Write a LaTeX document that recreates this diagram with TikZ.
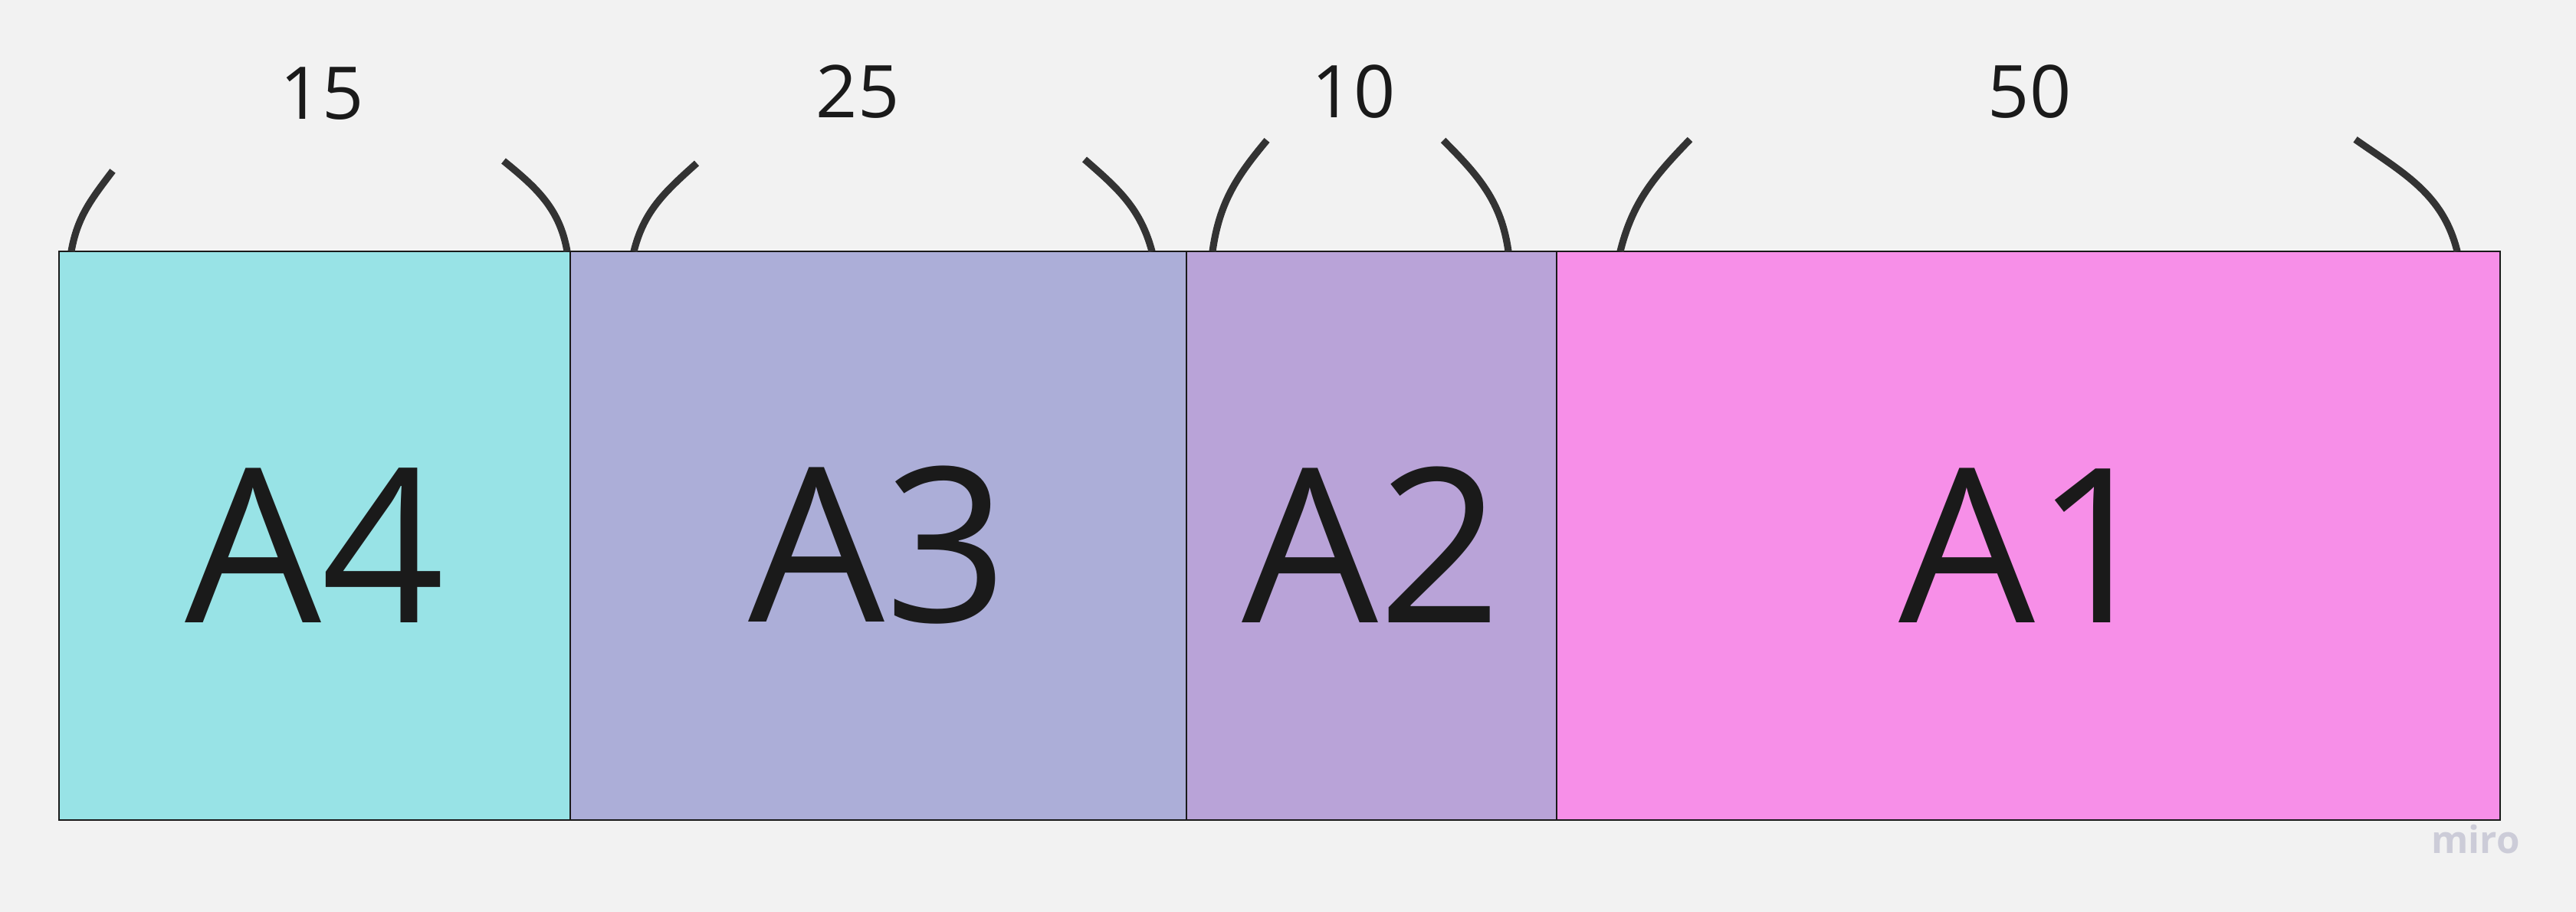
\documentclass[tikz,border=0pt]{standalone}
\usepackage{fontspec}
\setmainfont{Open Sans}
\usepackage{tikz}
\usetikzlibrary{positioning}
\definecolor{PageGray}{RGB}{242, 242, 242}
\definecolor{CellCyan}{RGB}{152, 227, 230}
\definecolor{CellBlue}{RGB}{172, 174, 216}
\definecolor{CellLilac}{RGB}{185, 163, 216}
\definecolor{CellPink}{RGB}{247, 143, 232}
\definecolor{BowGray}{RGB}{51, 51, 51}
\definecolor{InkDark}{RGB}{26, 26, 26}
\definecolor{MarkGray}{RGB}{204, 204, 216}

\begin{document}
\begin{tikzpicture}[cell/.style={draw=InkDark, line width=0.8pt, minimum height=7.42cm, inner sep=0pt, outer sep=0pt, text=InkDark, text height=2.28cm, font=\fontsize{80}{96}\selectfont},
  count/.style={text=InkDark, font=\fontsize{27}{32}\selectfont, inner sep=0pt}, bow/.style={draw=BowGray, line width=2.6pt}]
\fill[PageGray] (0,0) rectangle (33.61,11.90);
\useasboundingbox (0,0) rectangle (33.61,11.90);
% cells
\node[cell, fill=CellCyan, minimum width=6.67cm] (a4) at (4.105,4.91) {A4};
\node[cell, fill=CellBlue, minimum width=8.04cm, right=0pt of a4] (a3) {A3};
\node[cell, fill=CellLilac, minimum width=4.83cm, right=0pt of a3] (a2) {A2};
\node[cell, fill=CellPink, minimum width=12.31cm, right=0pt of a2] (a1) {A1};
% counts
\node[count] (n15) at (4.20,10.68) {15};
\node[count] (n25) at (11.19,10.70) {25};
\node[count] (n10) at (17.66,10.70) {10};
\node[count] (n50) at (26.48,10.70) {50};
% bows over the cells
\draw[bow] (0.93,8.62) to[out=80, in=233] (1.47,9.67);
\draw[bow] (6.57,9.80) to[out=-39, in=100] (7.40,8.62);
\draw[bow] (8.27,8.62) to[out=76, in=222] (9.09,9.77);
\draw[bow] (14.15,9.82) to[out=-41, in=105] (15.03,8.62);
\draw[bow] (15.82,8.62) to[out=82, in=230] (16.53,10.07);
\draw[bow] (18.83,10.07) to[out=-45, in=98] (19.68,8.62);
\draw[bow] (21.14,8.62) to[out=76, in=226] (22.05,10.08);
\draw[bow] (30.73,10.08) to[out=-35, in=104] (32.06,8.62);
% watermark
\node[text=MarkGray, font=\fontsize{14}{16}\selectfont\bfseries, inner sep=0pt] (mark) at (32.30,0.95) {miro};
\end{tikzpicture}
\end{document}
